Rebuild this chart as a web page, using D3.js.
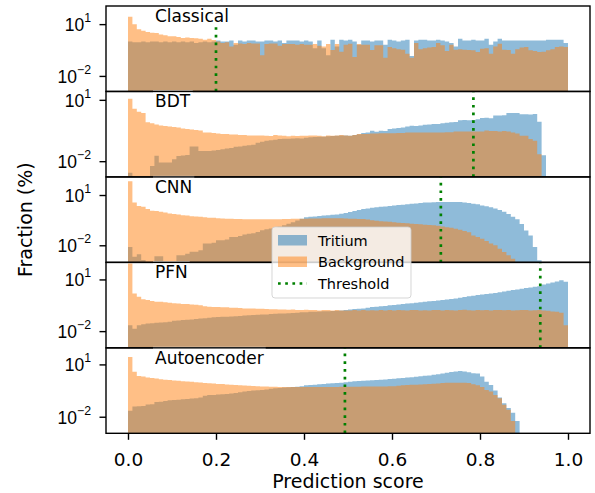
<!DOCTYPE html>
<html>
<head>
<meta charset="utf-8">
<script src="https://cdn.jsdelivr.net/npm/d3@7"></script>
<style>
  body { margin: 0; background: #fff; }
  svg { display: block; font-family: "DejaVu Sans", sans-serif; }
</style>
</head>
<body>
<svg id="chart" width="595" height="493"></svg>
<script>
// histogram heights as log10 of the fraction in %, 100 bins on [0, 1]; null = empty bin
const classicalTritium = [
  0.0, -0.05, -0.05, 0.0, -0.05, 0.0, 0.0, -0.05, 0.0, -0.05,
  0.0, -0.05, 0.0, -0.05, 0.0, -0.1, -0.05, 0.0, -0.05, 0.0,
  0.05, 0.0, 0.0, 0.05, -0.2, 0.05, 0.0, 0.05, 0.05, 0.0,
  0.0, 0.05, 0.05, 0.0, 0.05, -0.1, 0.05, 0.05, 0.05, 0.0,
  0.05, 0.0, -0.4, 0.05, -0.4, -0.8, 0.1, -0.3, 0.1, 0.05,
  0.1, 0.0, -0.2, 0.05, 0.05, 0.0, 0.05, 0.05, -0.2, 0.1,
  0.05, 0.0, 0.05, 0.1, -0.85, 0.05, 0.1, 0.1, 0.05, 0.05,
  0.1, 0.05, 0.0, -0.1, -0.3, 0.15, 0.05, 0.05, 0.1, 0.05,
  0.05, 0.15, -0.2, 0.0, 0.15, 0.05, 0.05, 0.05, 0.05, 0.05,
  0.05, 0.05, 0.05, 0.05, 0.05, 0.1, 0.1, 0.1, 0.1, -0.1];
const classicalBackground = [
  1.43, 1.0, 0.7, 0.62, 0.55, 0.5, 0.48, 0.4, 0.35, 0.3,
  0.3, 0.25, 0.2, 0.22, 0.2, 0.18, 0.15, 0.1, 0.15, 0.08,
  0.0, -0.1, -0.05, -0.3, -0.1, -0.12, -0.15, -0.1, -0.12, -0.12,
  -0.8, -0.15, -0.12, -0.12, -0.25, -0.15, -0.15, -0.15, -0.2, -0.15,
  -0.2, -0.2, -0.15, -0.25, -0.3, -0.15, -0.5, -0.15, -0.6, -0.2,
  -0.13, -0.9, -0.15, -0.2, -0.2, -0.5, -0.23, -0.23, -0.95, -0.32,
  -0.4, -0.45, -0.48, -0.71, -0.95, -0.09, -0.45, -0.4, -0.35, -0.32,
  -0.09, -0.23, -0.55, -0.2, -0.48, -0.45, -0.48, -0.5, -0.52, -0.62,
  -0.42, -0.4, -0.71, -0.3, -0.13, -0.48, -0.5, -0.71, -0.45, -0.35,
  -0.32, -0.52, -0.55, -0.62, -0.6, -0.52, -0.45, -0.32, -0.3, -0.32];

const bdtTritium = [
  -2.56, null, null, null, null, -2.24, -1.74, -2.07, -2.07, -2.07,
  -1.9, -1.75, -1.72, -1.7, -1.28, -1.28, -1.5, -1.5, -1.5, -1.48,
  -1.45, -1.42, -1.38, -1.35, -1.3, -1.28, -1.25, -1.22, -1.2, -1.1,
  -1.05, -1.0, -0.98, -0.95, -0.92, -0.9, -0.9, -0.89, -0.88, -0.89,
  -0.85, -0.83, -0.82, -0.8, -0.8, -0.78, -0.77, -0.76, -0.75, -0.74,
  -0.76, -0.72, -0.68, -0.62, -0.6, -0.51, -0.56, -0.51, -0.52, -0.43,
  -0.4, -0.38, -0.35, -0.3, -0.27, -0.28, -0.25, -0.22, -0.2, -0.18,
  -0.18, -0.15, -0.12, -0.1, -0.08, 0.0, 0.02, 0.0, 0.02, 0.05,
  0.11, 0.13, 0.1, 0.23, 0.23, 0.25, 0.36, 0.36, 0.36, 0.3,
  0.3, 0.28, 0.31, -0.07, -1.71, null, null, null, null, null];
const bdtBackground = [
  1.05, 0.56, 0.42, 0.36, -0.1, -0.15, -0.2, -0.25, -0.28, -0.3,
  -0.33, -0.35, -0.4, -0.43, -0.45, -0.48, -0.5, -0.6, -0.6, -0.62,
  -0.65, -0.67, -0.67, -0.7, -0.7, -0.72, -0.72, -0.74, -0.74, -0.75,
  -0.75, -0.76, -0.77, -0.72, -0.74, -0.76, -0.78, -0.76, -0.77, -0.76,
  -0.76, -0.75, -0.74, -0.76, -0.78, -0.74, -0.76, -0.75, -0.72, -0.74,
  -0.76, -0.72, -0.67, -0.67, -0.67, -0.65, -0.65, -0.63, -0.63, -0.63,
  -0.63, -0.62, -0.62, -0.6, -0.6, -0.6, -0.6, -0.6, -0.6, -0.6,
  -0.6, -0.6, -0.58, -0.58, -0.55, -0.55, -0.55, -0.55, -0.55, -0.55,
  -0.55, -0.5, -0.52, -0.52, -0.55, -0.52, -0.55, -0.6, -0.65, -0.76,
  -0.76, -0.92, -1.0, -1.66, null, null, null, null, null, null];

const cnnTritium = [
  -2.1, -2.69, -2.53, -2.88, null, null, -2.65, -2.65, null, null,
  null, -2.59, -2.59, -2.5, -2.39, -2.39, -2.3, -1.9, -1.9, -1.85,
  -1.7, -1.7, -1.65, -1.5, -1.5, -1.45, -1.35, -1.31, -1.28, -1.2,
  -1.1, -1.05, -1.0, -0.95, -0.9, -0.8, -0.72, -0.62, -0.52, -0.42,
  -0.33, -0.3, -0.28, -0.25, -0.22, -0.2, -0.18, -0.16, -0.12, -0.08,
  -0.02, 0.04, 0.1, 0.16, 0.2, 0.24, 0.27, 0.3, 0.32, 0.35,
  0.37, 0.4, 0.42, 0.45, 0.48, 0.5, 0.53, 0.55, 0.56, 0.57,
  0.58, 0.59, 0.59, 0.59, 0.59, 0.58, 0.56, 0.53, 0.48, 0.45,
  0.38, 0.33, 0.27, 0.2, 0.1, 0.0, -0.14, -0.3, -0.45, -0.73,
  -1.12, -1.41, -2.1, -2.9, null, null, null, null, null, null];
const cnnBackground = [
  1.82, 0.55, 0.35, 0.3, 0.16, 0.06, 0.04, 0.0, -0.04, -0.1,
  -0.14, -0.16, -0.2, -0.22, -0.26, -0.28, -0.3, -0.33, -0.35, -0.36,
  -0.38, -0.4, -0.41, -0.42, -0.43, -0.43, -0.44, -0.44, -0.44, -0.44,
  -0.45, -0.45, -0.44, -0.44, -0.44, -0.43, -0.43, -0.42, -0.42, -0.41,
  -0.41, -0.4, -0.4, -0.4, -0.39, -0.39, -0.39, -0.39, -0.39, -0.4,
  -0.41, -0.42, -0.43, -0.43, -0.46, -0.5, -0.53, -0.56, -0.58, -0.6,
  -0.63, -0.65, -0.67, -0.69, -0.71, -0.73, -0.75, -0.77, -0.79, -0.81,
  -0.84, -0.88, -0.92, -0.96, -1.02, -1.08, -1.15, -1.22, -1.41, -1.5,
  -1.61, -1.75, -1.9, -2.0, -2.2, -2.4, -2.59, -2.8, null, null,
  null, null, null, null, null, null, null, null, null, null];

const pfnTritium = [
  -1.66, -1.86, -1.66, -1.6, -1.56, -1.54, -1.52, -1.5, -1.48, -1.46,
  -1.4, -1.38, -1.36, -1.34, -1.32, -1.3, -1.27, -1.25, -1.22, -1.2,
  -1.18, -1.17, -1.17, -1.15, -1.14, -1.12, -1.1, -1.08, -1.06, -1.05,
  -1.04, -1.03, -1.0, -0.99, -0.98, -0.98, -0.96, -0.95, -0.93, -0.9,
  -0.9, -0.88, -0.87, -0.86, -0.85, -0.84, -0.83, -0.82, -0.8, -0.77,
  -0.74, -0.72, -0.7, -0.68, -0.65, -0.6, -0.58, -0.56, -0.54, -0.5,
  -0.48, -0.46, -0.43, -0.4, -0.38, -0.35, -0.33, -0.3, -0.27, -0.25,
  -0.22, -0.2, -0.17, -0.13, -0.1, -0.06, -0.02, 0.02, 0.06, 0.09,
  0.12, 0.15, 0.18, 0.22, 0.26, 0.3, 0.35, 0.38, 0.42, 0.46,
  0.5, 0.53, 0.57, 0.6, 0.7, 0.77, 0.82, 0.88, 0.96, 0.86];
const pfnBackground = [
  1.93, 0.19, 0.0, -0.15, -0.2, -0.25, -0.29, -0.3, -0.32, -0.35,
  -0.38, -0.4, -0.42, -0.43, -0.45, -0.47, -0.5, -0.55, -0.58, -0.6,
  -0.6, -0.62, -0.62, -0.65, -0.65, -0.66, -0.68, -0.68, -0.68, -0.7,
  -0.7, -0.72, -0.73, -0.73, -0.75, -0.74, -0.76, -0.75, -0.77, -0.78,
  -0.76, -0.78, -0.78, -0.8, -0.78, -0.78, -0.8, -0.78, -0.8, -0.8,
  -0.8, -0.78, -0.8, -0.78, -0.8, -0.79, -0.8, -0.77, -0.8, -0.78,
  -0.8, -0.78, -0.79, -0.8, -0.78, -0.78, -0.8, -0.79, -0.8, -0.78,
  -0.78, -0.8, -0.77, -0.79, -0.8, -0.77, -0.76, -0.79, -0.8, -0.78,
  -0.79, -0.78, -0.8, -0.77, -0.77, -0.79, -0.78, -0.8, -0.79, -0.77,
  -0.78, -0.8, -0.79, -0.78, -0.8, -0.82, -0.86, -0.88, -0.93, -1.66];

const aeTritium = [
  -1.65, -1.42, -1.4, -1.38, -1.3, -1.28, -1.16, -1.14, -1.1, -1.06,
  -1.04, -1.02, -1.0, -0.98, -0.96, -0.94, -0.9, -0.8, -0.76, -0.75,
  -0.73, -0.71, -0.69, -0.67, -0.64, -0.6, -0.56, -0.53, -0.5, -0.48,
  -0.47, -0.44, -0.4, -0.37, -0.35, -0.33, -0.31, -0.29, -0.28, -0.25,
  -0.2, -0.18, -0.16, -0.14, -0.12, -0.1, -0.08, -0.06, -0.05, -0.03,
  0.0, 0.03, 0.05, 0.06, 0.08, 0.09, 0.1, 0.12, 0.14, 0.16,
  0.18, 0.2, 0.22, 0.25, 0.27, 0.29, 0.32, 0.35, 0.37, 0.4,
  0.44, 0.48, 0.52, 0.56, 0.6, 0.62, 0.6, 0.55, 0.5, 0.48,
  0.3, 0.01, -0.18, -0.5, -0.9, -1.23, -1.5, -1.77, -2.24, null,
  null, null, null, null, null, null, null, null, null, null];
const aeBackground = [
  1.43, 0.58, 0.33, 0.3, 0.25, 0.22, 0.19, 0.15, 0.12, 0.1,
  0.08, 0.06, 0.04, 0.02, 0.0, -0.02, -0.04, -0.06, -0.08, -0.1,
  -0.12, -0.13, -0.15, -0.17, -0.18, -0.2, -0.21, -0.22, -0.24, -0.25,
  -0.26, -0.27, -0.28, -0.28, -0.29, -0.3, -0.3, -0.3, -0.3, -0.3,
  -0.3, -0.3, -0.3, -0.3, -0.29, -0.29, -0.29, -0.29, -0.28, -0.28,
  -0.28, -0.28, -0.28, -0.27, -0.27, -0.27, -0.26, -0.26, -0.26, -0.25,
  -0.25, -0.22, -0.2, -0.18, -0.17, -0.16, -0.15, -0.14, -0.12, -0.11,
  -0.1, -0.07, -0.05, -0.05, -0.05, -0.05, -0.05, -0.06, -0.14, -0.2,
  -0.3, -0.47, -0.56, -0.75, -0.94, -1.32, -1.6, -2.24, null, null,
  null, null, null, null, null, null, null, null, null, null];

const panelNames = ["Classical", "BDT", "CNN", "PFN", "Autoencoder"];
const thresholds = [0.2, 0.785, 0.711, 0.937, 0.493];
const tritiumSeries = [classicalTritium, bdtTritium, cnnTritium, pfnTritium, aeTritium];
const backgroundSeries = [classicalBackground, bdtBackground, cnnBackground, pfnBackground, aeBackground];
// y limits of each panel, as log10 (%)
const yLimits = [[-2.9, 2.05], [-2.77, 1.41], [-3.02, 2.08], [-2.97, 1.99], [-2.95, 1.95]];
const xTicks = [0, 0.2, 0.4, 0.6, 0.8, 1.0];
const yTicks = [10, 0.01];
const legendLabels = ["Tritium", "Background", "Threshold"];

const nBins = 100;
const binEdges = d3.range(nBins + 1).map(i => i / nBins);

const BLUE = "#1f77b4", ORANGE = "#ff7f0e", GREEN = "#008000";

const plotLeft = 106, plotRight = 590, plotTop = 6, plotBottom = 433.3;
const panelH = (plotBottom - plotTop) / panelNames.length;
const tickLen = 6.5, spineW = 1.4;

const svg = d3.select("#chart");
const x = d3.scaleLinear().domain([-0.05, 1.05]).range([plotLeft, plotRight]);

function barPath(vals, y) {
  const p = d3.path();
  vals.forEach((v, i) => {
    if (v === null) return;
    const x0 = x(binEdges[i]), x1 = x(binEdges[i + 1]);
    const yy = y(Math.pow(10, v));
    p.rect(x0, yy, x1 - x0, panelH - yy);
  });
  return p.toString();
}

panelNames.forEach((name, k) => {
  const y0 = plotTop + k * panelH;
  const g = svg.append("g").attr("transform", `translate(0,${y0})`);
  const y = d3.scaleLog()
    .domain(yLimits[k].map(e => Math.pow(10, e)))
    .range([panelH, 0]);

  g.append("clipPath").attr("id", "clip" + k)
    .append("rect").attr("x", plotLeft).attr("y", 0)
    .attr("width", plotRight - plotLeft).attr("height", panelH);
  const plot = g.append("g").attr("clip-path", `url(#clip${k})`);

  plot.append("path").attr("d", barPath(tritiumSeries[k], y))
    .attr("fill", BLUE).attr("fill-opacity", 0.5);
  plot.append("path").attr("d", barPath(backgroundSeries[k], y))
    .attr("fill", ORANGE).attr("fill-opacity", 0.5);

  plot.append("line")
    .attr("x1", x(thresholds[k])).attr("x2", x(thresholds[k]))
    .attr("y1", panelH).attr("y2", 0)
    .attr("stroke", GREEN).attr("stroke-width", 2.7)
    .attr("stroke-dasharray", "2.7,5");

  // panel title on a white box
  const label = g.append("text")
    .attr("x", 155).attr("y", 16)
    .attr("font-size", 17).attr("fill", "#000")
    .text(name);
  const bb = label.node().getBBox();
  g.insert("rect", "text")
    .attr("x", bb.x - 2).attr("y", bb.y - 1)
    .attr("width", bb.width + 4).attr("height", bb.height + 2)
    .attr("fill", "#fff");

  // y axis
  const ax = g.append("g").attr("transform", `translate(${plotLeft},0)`)
    .call(d3.axisLeft(y).tickValues(yTicks).tickSize(tickLen).tickFormat(""));
  ax.select(".domain").remove();
  ax.selectAll(".tick line").attr("stroke", "#000").attr("stroke-width", spineW);
  ax.selectAll(".tick text").remove();
  ax.selectAll(".tick").each(function (d) {
    const t = d3.select(this).append("text")
      .attr("x", -15).attr("y", 6.3)
      .attr("text-anchor", "end").attr("fill", "#000")
      .attr("font-size", 17.5);
    const exp = Math.round(Math.log10(d));
    t.append("tspan").text("10");
    t.append("tspan").attr("dy", -8.8).attr("font-size", 12.3)
      .text(exp < 0 ? "\u2212" + (-exp) : String(exp));
  });

  g.append("rect")
    .attr("x", plotLeft).attr("y", 0).attr("width", plotRight - plotLeft).attr("height", panelH)
    .attr("fill", "none").attr("stroke", "#000").attr("stroke-width", spineW);
});

// x axis on the bottom panel
const xAxis = svg.append("g").attr("transform", `translate(0,${plotBottom})`)
  .call(d3.axisBottom(x).tickValues(xTicks).tickSize(tickLen).tickPadding(13).tickFormat(d3.format(".1f")));
xAxis.select(".domain").remove();
xAxis.selectAll(".tick line").attr("stroke", "#000").attr("stroke-width", spineW);
xAxis.selectAll(".tick text").attr("font-size", 18.5).attr("fill", "#000")
  .attr("font-family", "DejaVu Sans, sans-serif");

svg.append("text")
  .attr("x", (plotLeft + plotRight) / 2).attr("y", 488)
  .attr("text-anchor", "middle").attr("font-size", 19)
  .text("Prediction score");

svg.append("text")
  .attr("transform", `translate(32,${(plotTop + plotBottom) / 2}) rotate(-90)`)
  .attr("text-anchor", "middle").attr("font-size", 19)
  .text("Fraction (%)");

// legend
const lg = svg.append("g").attr("transform", "translate(272,227)");
lg.append("rect")
  .attr("x", 0).attr("y", 0).attr("width", 139).attr("height", 71).attr("rx", 3)
  .attr("fill", "#fff").attr("fill-opacity", 0.8)
  .attr("stroke", "#cccccc").attr("stroke-opacity", 0.8);
const rowY = [18.5, 40, 61.5];
lg.append("rect").attr("x", 6).attr("y", rowY[0] - 10.5).attr("width", 29).attr("height", 10.5)
  .attr("fill", BLUE).attr("fill-opacity", 0.5);
lg.append("rect").attr("x", 6).attr("y", rowY[1] - 10.5).attr("width", 29).attr("height", 10.5)
  .attr("fill", ORANGE).attr("fill-opacity", 0.5);
lg.append("line").attr("x1", 6).attr("x2", 35).attr("y1", rowY[2] - 5).attr("y2", rowY[2] - 5)
  .attr("stroke", GREEN).attr("stroke-width", 2.7).attr("stroke-dasharray", "2.7,4.5");
legendLabels.forEach((s, i) => {
  lg.append("text").attr("x", 46).attr("y", rowY[i])
    .attr("font-size", 14.5).attr("fill", "#000").text(s);
});
</script>
</body>
</html>
